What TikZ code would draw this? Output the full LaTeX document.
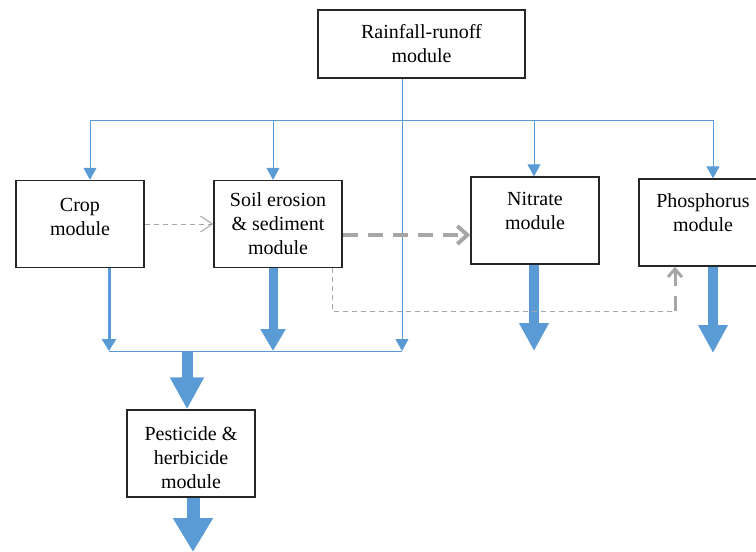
\documentclass[tikz,border=0pt]{standalone}
\usepackage{fontspec}
\setmainfont{Liberation Serif}
\usepackage{tikz}
\usetikzlibrary{arrows.meta}
\usetikzlibrary{positioning}

\definecolor{flowblue}{RGB}{91,155,213}
\definecolor{linkgray}{RGB}{166,166,166}

\begin{document}
\begin{tikzpicture}[x=0.5pt, y=-0.5pt,
        module/.style={rectangle, draw=black!85, line width=0.7pt, fill=white, align=center, font=\fontsize{10}{12}\selectfont, minimum width=64pt, minimum height=43.5pt, inner sep=0pt},
        feed/.style={draw=flowblue, line width=0.5pt, -{Triangle[width=6.5pt, length=6pt]}},
        bus/.style={draw=flowblue, line width=0.5pt},
        flow/.style={draw=flowblue, line width=#1},
        hint/.style={draw=linkgray, line width=0.5pt, dash pattern=on 2.5pt off 2pt},
        link/.style={draw=linkgray, line width=2pt, dash pattern=on 7.5pt off 5pt}
      ]
        \clip (0,0) rectangle (756,552);
        \useasboundingbox (0,0) rectangle (756,552);

        \node[module, minimum width=103.5pt, minimum height=34pt]  (rain)    at(421.5, 44)   {Rainfall-runoff\\module};
        \node[module]  (crop)    at(80, 224)                    {Crop\\module\\[-4.5pt]};
        \node[module]  (soil)    at(278, 224)                   {Soil erosion\\\& sediment\\module};
        \node[module]  (nitrate) at(535, 220.5)                 {Nitrate\\module\\[-2.5pt]};
        \node[module]  (phos)    at(703, 222.5)                 {Phosphorus\\module\\[-2.5pt]};
        \node[module]  (pest)    at(191, 453.5)                 {\rule{0pt}{11pt}Pesticide \&\\herbicide\\module};

        \coordinate (busL)   at(90, 120);
        \coordinate (busS)   at(273, 120);
        \coordinate (busN)   at(534, 120);
        \coordinate (busR)   at(713, 120);
        \coordinate (joinL)  at(109, 351);
        \coordinate (joinS)  at(273, 351);
        \coordinate (joinP)  at(187, 351);
        \coordinate (joinR)  at(402, 351);
        \coordinate (outP)   at(193, 552);
        \coordinate (outN)   at(534, 351);
        \coordinate (outPh)  at(713, 353);
        \coordinate (dropS)  at(332, 311);
        \coordinate (turnPh) at(675, 311);

        \draw[bus]  (busL) -- (busR);
        \draw[feed] (busL) -- (busL |- crop.north);
        \draw[feed] (busS) -- (busS |- soil.north);
        \draw[feed] (busN) -- (busN |- nitrate.north);
        \draw[feed] (busR) -- (busR |- phos.north);
        \draw[feed] (rain.south -| joinR) -- (joinR);

        \draw[bus]  (joinL) -- (joinR);
        \draw[flow=1.5pt, -{Triangle[width=7pt, length=6pt]}]    (crop.south -| joinL) -- (joinL);
        \draw[flow=4.5pt, -{Triangle[width=12pt, length=11pt]}]  (soil.south -| joinS) -- (joinS);
        \draw[flow=5.5pt, -{Triangle[width=16pt, length=16pt]}]  (joinP) -- (joinP |- pest.north);
        \draw[flow=6.5pt, -{Triangle[width=19pt, length=17pt]}]  (pest.south -| outP) -- (outP);
        \draw[flow=5pt, -{Triangle[width=14pt, length=14pt]}]    (nitrate.south -| outN) -- (outN);
        \draw[flow=5pt, -{Triangle[width=14pt, length=14pt]}]    (phos.south -| outPh) -- (outPh);

        \draw[hint, -{Straight Barb[length=6pt, width=8pt]}]  (crop.east) -- (soil.west);
        \draw[link, -{Straight Barb[length=5pt, width=9pt]}]  ([yshift=-5.5pt]soil.east) -- ([yshift=-5.5pt]soil.east -| nitrate.west);
        \draw[hint]  (soil.south -| dropS) -- (dropS) -- (turnPh);
        \draw[link, line width=1.5pt, -{Straight Barb[length=4pt, width=7pt]}]  (turnPh) -- (turnPh |- phos.south);
      \end{tikzpicture}
\end{document}
